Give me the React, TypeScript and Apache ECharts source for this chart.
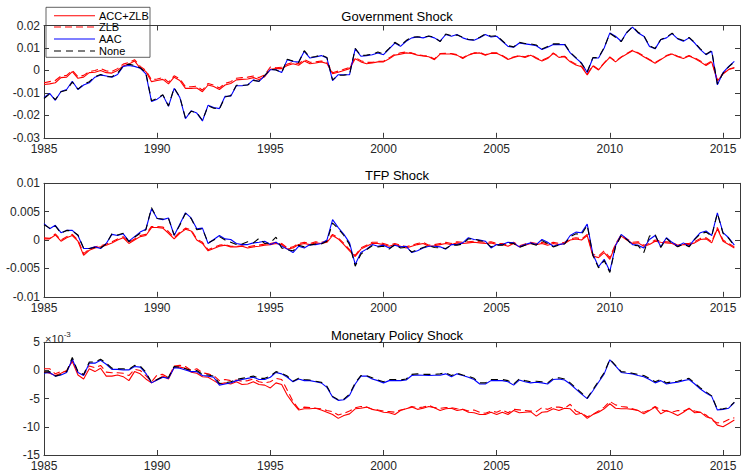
import React, { useEffect, useRef } from "react";
import * as echarts from "echarts";

// ---------- DATA ----------
const START_YEAR = 1985;
const N_QUARTERS = 123; // 1985Q1 .. 2015Q3
const quarters = Array.from({ length: N_QUARTERS }, (_, i) => START_YEAR + i / 4);

const seriesNames = ["ACC+ZLB", "ZLB", "AAC", "None"];
const panelTitles = ["Government Shock", "TFP Shock", "Monetary Policy Shock"];

// Panel 1: Government Shock
const govAccZlb = [
  -0.0063, -0.006, -0.0055, -0.0032,
  -0.003, -0.0005, -0.0035, -0.003,
  -0.001, -0.0008, 0.0, -0.001,
  -0.0012, 0.0, 0.002, 0.0028,
  0.0042, 0.001, -0.0005, -0.005,
  -0.0045, -0.004, -0.006, -0.003,
  -0.0045, -0.008, -0.008, -0.0078,
  -0.0095, -0.0065, -0.0072, -0.0085,
  -0.0065, -0.0058, -0.0042, -0.004,
  -0.0038, -0.0032, -0.004, -0.0028,
  0.0005, 0.0008, 0.0008, 0.0022,
  0.003, 0.0023, 0.0042, 0.003,
  0.0033, 0.0038, 0.0031, -0.0015,
  -0.0008, 0.0, 0.0008, 0.0052,
  0.0038, 0.003, 0.0033, 0.0038,
  0.0038, 0.0052, 0.0068, 0.0072,
  0.0078, 0.0075, 0.0068, 0.0064,
  0.0061, 0.0048, 0.0073, 0.0073,
  0.0073, 0.0068, 0.0053, 0.0068,
  0.0076, 0.0078, 0.0068, 0.0076,
  0.0076, 0.0064, 0.0049, 0.0058,
  0.0064, 0.0058, 0.0068, 0.0053,
  0.0042, 0.0053, 0.0076, 0.0058,
  0.0061, 0.0038, 0.0024, 0.0016,
  -0.002, 0.002, 0.0002, 0.0032,
  0.0058, 0.0038, 0.0058, 0.0073,
  0.0088, 0.0076, 0.0061, 0.0046,
  0.0032, 0.0048, 0.0064, 0.0073,
  0.0061, 0.0053, 0.0064, 0.0053,
  0.0038, 0.0022, 0.0038, -0.0048,
  -0.0016, 0.0004, 0.0011,
];
const govZlb = [
  -0.0055, -0.005, -0.0045, -0.0025,
  -0.0022, 0.0, -0.0028, -0.0022,
  -0.0005, 0.0, 0.0008, -0.0002,
  -0.0005, 0.0008, 0.0028, 0.0035,
  0.0048, 0.0018, 0.0, -0.0042,
  -0.0038, -0.0032, -0.0052, -0.0024,
  -0.0038, -0.0072, -0.0073, -0.007,
  -0.0088, -0.0058, -0.0065, -0.0078,
  -0.0058, -0.005, -0.0035, -0.0032,
  -0.003, -0.0025, -0.0032, -0.002,
  0.0015, 0.0012, 0.0014, 0.0028,
  0.0036, 0.003, 0.0048, 0.0036,
  0.0038, 0.0042, 0.0036, -0.001,
  -0.0003, 0.0005, 0.0013, 0.0058,
  0.0043, 0.0036, 0.0036, 0.004,
  0.0041, 0.0056, 0.0072, 0.0078,
  0.0082, 0.0078, 0.007, 0.0066,
  0.0064, 0.0051, 0.0075, 0.0076,
  0.0075, 0.007, 0.0056, 0.007,
  0.0078, 0.008, 0.007, 0.0078,
  0.0078, 0.0066, 0.0052, 0.006,
  0.0066, 0.0061, 0.007, 0.0056,
  0.0045, 0.0056, 0.0078, 0.0061,
  0.0063, 0.0042, 0.0028, 0.0019,
  -0.0016, 0.0022, 0.0004, 0.0034,
  0.006, 0.0041, 0.006, 0.0075,
  0.009, 0.0079, 0.0064, 0.0049,
  0.0035, 0.005, 0.0066, 0.0075,
  0.0063, 0.0056, 0.0066, 0.0056,
  0.0042, 0.0026, 0.0042, -0.0042,
  -0.0012, 0.0006, 0.0013,
];
const govAac = [
  -0.012, -0.0102, -0.0133, -0.0094,
  -0.0085, -0.0048, -0.0085, -0.0065,
  -0.0055, -0.003, -0.002, -0.0025,
  -0.003, -0.0018, 0.0018, 0.0022,
  0.0018, 0.001, -0.0015, -0.0138,
  -0.0128, -0.011, -0.016, -0.008,
  -0.012, -0.0215, -0.018, -0.019,
  -0.0225, -0.0155, -0.0165, -0.017,
  -0.0115, -0.0115, -0.0068, -0.0068,
  -0.0064, -0.0042, -0.0049, -0.0024,
  0.0003, 0.0003, -0.0009, 0.0048,
  0.004, 0.0037, 0.0085, 0.0055,
  0.006, 0.0066, 0.0055, -0.0045,
  -0.0019, -0.0019, -0.0019, 0.0096,
  0.0063, 0.0066, 0.007, 0.0078,
  0.007, 0.0096, 0.0122, 0.0107,
  0.013, 0.0145, 0.0149, 0.0145,
  0.0152, 0.0145, 0.013, 0.016,
  0.0152, 0.016, 0.0145, 0.0137,
  0.0134, 0.0145, 0.016, 0.0149,
  0.0152, 0.013, 0.0107, 0.0103,
  0.0122, 0.0118, 0.0115, 0.011,
  0.0093, 0.0103, 0.0115, 0.0115,
  0.0115, 0.0078, 0.0055, 0.0033,
  -0.0009, 0.0055, 0.0055, 0.01,
  0.0167, 0.0152, 0.013, 0.017,
  0.0193, 0.0167, 0.0152, 0.0107,
  0.0096, 0.0137, 0.0145, 0.0164,
  0.014, 0.013, 0.0145, 0.0122,
  0.0093, 0.007, 0.0085, -0.0064,
  -0.001, 0.0018, 0.004,
];
const govNone = [
  -0.0125, -0.0105, -0.013, -0.0095,
  -0.0088, -0.0052, -0.0083, -0.0062,
  -0.005, -0.0028, -0.0018, -0.0028,
  -0.0028, -0.0012, 0.002, 0.0028,
  0.0022, 0.0012, -0.001, -0.0135,
  -0.0125, -0.0108, -0.0158, -0.0078,
  -0.0118, -0.0212, -0.0182, -0.0188,
  -0.0222, -0.0158, -0.0168, -0.0172,
  -0.0118, -0.0112, -0.0066, -0.0066,
  -0.0065, -0.0045, -0.0048, -0.0022,
  0.0005, 0.0002, -0.001, 0.005,
  0.0042, 0.0035, 0.0088, 0.0058,
  0.0062, 0.0068, 0.0058, -0.0042,
  -0.0022, -0.0021, -0.0017, 0.0098,
  0.0066, 0.0068, 0.0072, 0.0082,
  0.0073, 0.0098, 0.0125, 0.011,
  0.0133, 0.0148, 0.015, 0.0148,
  0.0153, 0.0148, 0.0128, 0.0162,
  0.0155, 0.0158, 0.0148, 0.0138,
  0.0136, 0.0148, 0.0162, 0.0152,
  0.0155, 0.0132, 0.011, 0.0105,
  0.0125, 0.012, 0.0118, 0.0113,
  0.0095, 0.0106, 0.0118, 0.0118,
  0.0118, 0.008, 0.0057, 0.003,
  -0.0006, 0.0057, 0.0057, 0.0102,
  0.0165, 0.0148, 0.0128, 0.0168,
  0.0195, 0.017, 0.0155, 0.011,
  0.0098, 0.0138, 0.0148, 0.0166,
  0.0142, 0.0133, 0.0147, 0.0124,
  0.0096, 0.0072, 0.0088, -0.006,
  -0.0013, 0.0016, 0.0038,
];

// Panel 2: TFP Shock
const tfpAccZlb = [
  0.0002, 0.0002, 0.0009, -0.0002,
  0.0004, 0.0008, -0.0002, -0.0027,
  -0.0018, -0.0014, -0.0012, -0.0009,
  -0.0005, 0.0, 0.0004, -0.0006,
  0.0, 0.0006, 0.0008, 0.0022,
  0.0022, 0.0021, 0.0012, 0.0002,
  0.0012, 0.0019, 0.0016, 0.0,
  -0.0006, -0.0019, -0.0015, -0.0011,
  -0.0009, -0.0012, -0.0012, -0.0011,
  -0.0014, -0.0012, -0.0011, -0.0009,
  -0.0008, -0.0006, -0.0008, -0.0016,
  -0.0014, -0.0008, -0.0006, -0.0008,
  -0.0005, -0.0006, -0.0004, 0.0008,
  0.0002, -0.0008, -0.0019, -0.0029,
  -0.0016, -0.0011, -0.0006, -0.0006,
  -0.0008, -0.0011, -0.0008, -0.0011,
  -0.0014, -0.0011, -0.0008, -0.0006,
  -0.0011, -0.001, -0.0008, -0.0006,
  -0.0008, -0.0005, -0.0006, -0.0005,
  -0.0004, -0.0005, -0.0006, -0.0005,
  -0.0008, -0.0008, -0.0011, -0.0006,
  -0.0012, -0.0009, -0.0006, -0.0008,
  -0.0006, -0.0009, -0.0006, -0.0008,
  -0.0006, 0.0, 0.0002, 0.0,
  0.0008, -0.0028, -0.0031, -0.0022,
  -0.0034, -0.0009, 0.0007, 0.0,
  -0.0006, -0.0005, -0.0011, -0.0008,
  -0.0002, -0.0004, -0.0005, -0.0006,
  -0.0011, -0.0008, -0.0008, -0.0005,
  0.0001, 0.0002, -0.0005, 0.002,
  -0.0002, -0.0008, -0.0014,
];
const tfpZlb = [
  0.0004, 0.0003, 0.0011, 0.0,
  0.0006, 0.001, 0.0, -0.0024,
  -0.0016, -0.0012, -0.001, -0.0007,
  -0.0003, 0.0002, 0.0006, -0.0004,
  0.0002, 0.0008, 0.001, 0.0024,
  0.0024, 0.0023, 0.0015, 0.0004,
  0.0014, 0.0021, 0.0018, 0.0002,
  -0.0004, -0.0017, -0.0013, -0.0009,
  -0.0008, -0.0011, -0.0011, -0.001,
  -0.0012, -0.001, -0.0009, -0.0007,
  -0.0006, -0.0004, -0.0006, -0.0014,
  -0.0012, -0.0006, -0.0004, -0.0006,
  -0.0003, -0.0004, -0.0002, 0.001,
  0.0004, -0.0006, -0.0017, -0.0027,
  -0.0014, -0.0009, -0.0004, -0.0004,
  -0.0006, -0.0009, -0.0006, -0.0009,
  -0.0012, -0.0009, -0.0006, -0.0004,
  -0.0009, -0.0008, -0.0006, -0.0004,
  -0.0006, -0.0003, -0.0004, -0.0003,
  -0.0002, -0.0003, -0.0004, -0.0003,
  -0.0006, -0.0006, -0.0009, -0.0004,
  -0.001, -0.0007, -0.0004, -0.0006,
  -0.0004, -0.0007, -0.0004, -0.0006,
  -0.0004, 0.0002, 0.0004, 0.0002,
  0.001, -0.0025, -0.0028, -0.0019,
  -0.0031, -0.0007, 0.0009, 0.0002,
  -0.0004, -0.0003, -0.0009, -0.0006,
  0.0, -0.0002, -0.0003, -0.0004,
  -0.0009, -0.0006, -0.0006, -0.0003,
  0.0003, 0.0004, -0.0003, 0.0022,
  0.0, -0.0006, -0.0012,
];
const tfpAac = [
  0.0029, 0.002, 0.0026, 0.0013,
  0.0017, 0.0017, 0.0008, -0.0015,
  -0.0015, -0.0012, -0.0015, -0.0006,
  0.001, 0.0008, 0.0011, -0.0002,
  0.0006, 0.0014, 0.0019, 0.0055,
  0.0038, 0.0036, 0.0039, 0.0008,
  0.0028, 0.0048, 0.0039, 0.002,
  0.0021, -0.0006, 0.0001, 0.0008,
  0.0002, 0.0001, -0.0006, -0.0008,
  -0.0008, -0.0005, -0.0004, -0.0002,
  -0.0008, -0.0004, -0.0011, -0.0016,
  -0.0022, -0.0011, -0.0014, -0.0008,
  -0.0008, -0.0006, 0.0, 0.0036,
  0.0022, 0.001, -0.0005, -0.0043,
  -0.0022, -0.0016, -0.0008, -0.0011,
  -0.0009, -0.0014, -0.0009, -0.0012,
  -0.0011, -0.0022, -0.0019, -0.0014,
  -0.0011, -0.0011, -0.0012, -0.0016,
  -0.0008, -0.0008, -0.0005, 0.0004,
  0.0001, 0.0, -0.0002, -0.0014,
  -0.0008, -0.0008, -0.0004, -0.0005,
  -0.0012, -0.0008, -0.0005, -0.0008,
  0.0001, -0.0004, -0.0011, -0.0008,
  -0.0006, 0.0008, 0.0014, 0.0013,
  0.0028, -0.0025, -0.0047, -0.0034,
  -0.0055, -0.001, 0.001, 0.0002,
  -0.0008, -0.0009, -0.0014, 0.0001,
  0.0008, -0.0012, 0.0004, -0.0004,
  -0.0011, -0.0005, -0.0011, 0.0002,
  0.0013, 0.0016, 0.0008, 0.0048,
  0.0013, 0.0004, -0.0009,
];
const tfpNone = [
  0.0027, 0.0021, 0.0025, 0.0012,
  0.0017, 0.0016, 0.0009, -0.0014,
  -0.0015, -0.0013, -0.0014, -0.0007,
  0.0011, 0.0009, 0.0012, -0.0003,
  0.0005, 0.0012, 0.0018, 0.0057,
  0.0038, 0.0037, 0.0038, 0.0009,
  0.0026, 0.0047, 0.0038, 0.0018,
  0.002, -0.0005, 0.0, 0.0006,
  0.0, -0.0004, -0.0008, -0.0007,
  -0.0003, -0.0005, 0.0003, -0.0006,
  -0.0005, 0.0005, -0.0014, -0.0017,
  -0.0019, -0.0009, -0.0012, -0.0009,
  -0.0007, -0.0007, -0.0002, 0.003,
  0.002, 0.0008, -0.0008, -0.0046,
  -0.0025, -0.0017, -0.001, -0.0012,
  -0.0011, -0.0016, -0.0008, -0.0014,
  -0.0013, -0.0021, -0.0017, -0.0013,
  -0.001, -0.0013, -0.0014, -0.0015,
  -0.0009, -0.0009, -0.0007, 0.0002,
  0.0002, -0.0001, -0.0003, -0.0012,
  -0.0009, -0.0009, -0.0005, -0.0006,
  -0.0013, -0.0009, -0.0006, -0.0009,
  -0.0001, -0.0006, -0.0012, -0.0009,
  -0.0007, 0.0006, 0.0011, 0.001,
  0.0026, -0.0027, -0.0049, -0.0036,
  -0.0057, -0.0012, 0.0008, 0.0001,
  -0.0009, -0.001, -0.0022, 0.0007,
  0.001, -0.0013, 0.0003, -0.0006,
  -0.0012, -0.0007, -0.0012, 0.0001,
  0.0011, 0.0014, 0.0007, 0.0047,
  0.0012, 0.0003, -0.001,
];

// Panel 3: Monetary Policy Shock (units of 10^-3)
const monAccZlb = [
  -0.2, -0.5, -0.9, -0.5,
  0.0, 1.6, -0.8, -1.5,
  0.3, -0.2, 0.4, -1.0,
  -1.0, -0.8, -1.1, -1.8,
  -0.2, -0.6, -1.5, -2.2,
  -1.6, -1.0, -1.5, 0.6,
  0.6, 0.4, -0.3, -0.5,
  -1.1, -1.2, -1.8, -2.4,
  -2.2, -2.4, -2.0, -2.5,
  -2.4, -2.0, -2.5, -2.6,
  -3.1, -2.2, -2.5, -4.4,
  -5.8, -7.0, -6.8, -6.8,
  -6.7, -7.0, -7.4, -7.8,
  -8.5, -8.0, -7.7, -6.8,
  -6.7, -6.5, -6.9, -7.1,
  -7.4, -7.5, -7.8, -7.1,
  -6.8, -6.5, -6.9, -6.7,
  -6.4, -6.6, -7.1, -6.8,
  -6.7, -7.1, -6.9, -7.4,
  -7.5, -7.8, -7.8, -7.4,
  -7.8, -7.4, -7.8, -7.1,
  -7.5, -7.4, -7.3, -8.1,
  -7.4, -7.3, -6.8, -7.1,
  -6.7, -6.8, -7.8, -7.6,
  -8.5, -7.8, -7.4, -6.8,
  -5.9, -6.7, -6.8, -6.8,
  -6.9, -7.1, -7.7, -7.1,
  -6.5, -7.7, -7.1, -7.5,
  -8.0, -7.4, -6.7, -7.5,
  -7.4, -8.2, -8.5, -9.7,
  -10.0, -9.4, -8.8,
];
const monZlb = [
  0.3, 0.3, -0.6, -0.2,
  -0.2, 1.8, -0.3, -0.8,
  0.8, 0.5, 0.9, -0.3,
  -0.4, -0.4, -0.5, -0.9,
  0.2, 0.0, -0.9, -2.0,
  -0.8, -0.7, -1.3, 0.8,
  0.9, 0.7, 0.0, 0.3,
  -0.4, -0.6, -0.9, -1.8,
  -1.6, -1.8, -1.7, -1.9,
  -1.8, -1.5, -2.0, -2.2,
  -2.0, -1.4, -1.6, -3.5,
  -5.5, -6.8, -6.5, -6.6,
  -6.7, -6.8, -7.1, -7.3,
  -7.9, -7.6, -7.2, -6.6,
  -6.4, -6.5, -6.9, -7.0,
  -7.2, -7.3, -7.4, -7.0,
  -6.8, -6.4, -6.6, -6.5,
  -6.2, -6.6, -6.7, -6.6,
  -6.6, -6.8, -6.9, -7.2,
  -7.0, -7.4, -7.6, -7.2,
  -7.4, -7.0, -7.5, -6.9,
  -7.0, -7.1, -7.2, -7.3,
  -6.6, -6.9, -6.5, -6.5,
  -6.7, -6.0, -7.2, -7.6,
  -8.2, -7.8, -7.2, -6.5,
  -5.5, -6.1, -6.4, -6.5,
  -6.8, -7.1, -7.4, -7.0,
  -6.4, -7.0, -7.2, -7.4,
  -7.1, -7.2, -6.8, -7.2,
  -7.4, -7.9, -8.8, -9.3,
  -9.2, -8.7, -8.4,
];
const monAac = [
  -0.5, -0.35, -1.0, -0.8,
  -0.35, 2.0, -0.35, -0.9,
  1.3, 1.3, 1.8, 1.1,
  0.2, 0.2, 0.1, 0.1,
  0.7, 0.6, -0.5, -2.2,
  -1.7, -1.2, -1.4, 0.5,
  0.4, 0.1, -0.2, -0.2,
  -0.9, -1.0, -1.2, -2.6,
  -2.4, -2.2, -1.8, -1.6,
  -1.4, -1.2, -1.6, -1.6,
  -1.2, -0.35, -0.6, -1.2,
  -2.0, -1.5, -1.8, -1.8,
  -2.0, -2.2, -3.0, -4.7,
  -5.3, -5.2, -4.4, -2.4,
  -1.0, -1.0, -1.5, -1.8,
  -2.2, -1.8, -1.8, -1.8,
  -1.7, -0.9, -0.8, -0.85,
  -0.9, -0.85, -0.85, -0.6,
  -1.1, -0.6, -0.9, -1.2,
  -1.6, -2.4, -2.4, -1.8,
  -1.8, -1.8, -2.0, -2.6,
  -1.7, -2.0, -2.2, -2.1,
  -2.2, -2.4, -1.6, -1.5,
  -1.7, -2.4, -3.3, -4.2,
  -5.0, -3.6, -2.1, -0.6,
  1.9, 0.8, -0.35, -0.5,
  -0.6, -0.9, -1.1, -1.6,
  -2.2, -1.8, -2.4, -2.2,
  -2.1, -1.8, -1.6, -2.4,
  -3.3, -4.0, -4.6, -7.0,
  -6.9, -6.7, -5.7,
];
const monNone = [
  -0.3, -0.2, -1.0, -0.7,
  -0.2, 2.3, -0.2, -0.7,
  1.5, 1.5, 2.0, 1.3,
  0.4, 0.3, 0.3, 0.2,
  0.9, 0.8, -0.3, -2.1,
  -1.6, -1.1, -1.2, 0.7,
  0.6, 0.3, 0.0, 0.0,
  -0.7, -0.8, -1.0, -2.3,
  -2.2, -2.0, -1.6, -1.4,
  -1.2, -1.0, -1.4, -1.4,
  -1.0, -0.2, -0.5, -1.0,
  -1.9, -1.4, -1.6, -1.7,
  -1.9, -2.1, -2.8, -4.6,
  -5.2, -5.1, -4.2, -2.2,
  -0.9, -0.9, -1.3, -1.7,
  -2.0, -1.6, -1.6, -1.7,
  -1.5, -0.7, -0.6, -0.7,
  -0.7, -0.7, -0.6, -0.4,
  -0.9, -0.5, -0.8, -1.0,
  -1.4, -2.2, -2.2, -1.6,
  -1.6, -1.6, -1.8, -2.4,
  -1.5, -1.8, -2.0, -1.9,
  -2.0, -2.2, -1.4, -1.3,
  -1.5, -2.2, -3.1, -4.0,
  -4.9, -3.4, -1.9, -0.4,
  2.0, 0.9, -0.2, -0.3,
  -0.5, -0.7, -0.9, -1.4,
  -2.0, -1.6, -2.2, -2.0,
  -1.9, -1.6, -1.4, -2.2,
  -3.1, -3.8, -4.5, -6.9,
  -6.8, -6.6, -5.6,
];

const panelData = [
  [govAccZlb, govZlb, govAac, govNone],
  [tfpAccZlb, tfpZlb, tfpAac, tfpNone],
  [monAccZlb, monZlb, monAac, monNone],
];
const yRanges = [
  { min: -0.03, max: 0.02, interval: 0.01 },
  { min: -0.01, max: 0.01, interval: 0.005 },
  { min: -15, max: 5, interval: 5 },
];
const X_MIN = 1985;
const X_MAX = 2015.75;
const X_INTERVAL = 5;

// ---------- STYLE ----------
const FONT = "'Liberation Sans', Arial, Helvetica, sans-serif";
const AXIS_COLOR = "#3a3a3a";
const LABEL_COLOR = "#262626";
const seriesStyles = [
  { color: "#ff0000", type: "solid", width: 1.1 },
  { color: "#ff0000", type: [7, 4], width: 1.1 },
  { color: "#0000ff", type: "solid", width: 1.1 },
  { color: "#000000", type: [7, 5], width: 1.1 },
];
const grids = [
  { left: 44, top: 25.5, width: 698, height: 112.3 },
  { left: 44, top: 183.3, width: 698, height: 113.5 },
  { left: 44, top: 342.3, width: 698, height: 114.4 },
];
const titlePos = [
  { x: 397, y: 16.7 },
  { x: 397, y: 175.7 },
  { x: 397, y: 335.5 },
];

function buildOption() {
  const xAxis: any[] = [];
  const yAxis: any[] = [];
  const series: any[] = [];
  grids.forEach((g, i) => {
    const tick = { show: true, inside: true, length: 5, lineStyle: { color: AXIS_COLOR, width: 1 } };
    const line = { show: true, onZero: false, lineStyle: { color: AXIS_COLOR, width: 1 } };
    xAxis.push({
      gridIndex: i, type: "value", min: X_MIN, max: X_MAX, interval: X_INTERVAL, position: "bottom",
      axisLine: line, axisTick: tick, splitLine: { show: false },
      axisLabel: {
        show: true, margin: 5, fontSize: 12, lineHeight: 12, color: LABEL_COLOR, fontFamily: FONT,
        formatter: (v: number) => (Math.abs(v % 5) < 1e-9 ? String(v) : ""),
      },
    });
    xAxis.push({
      gridIndex: i, type: "value", min: X_MIN, max: X_MAX, interval: X_INTERVAL, position: "top",
      axisLine: line, axisTick: tick, splitLine: { show: false }, axisLabel: { show: false },
    });
    const yr = yRanges[i];
    yAxis.push({
      gridIndex: i, type: "value", min: yr.min, max: yr.max, interval: yr.interval, position: "left",
      axisLine: line, axisTick: tick, splitLine: { show: false },
      axisLabel: { show: true, margin: 4, fontSize: 12, lineHeight: 8, color: LABEL_COLOR, fontFamily: FONT },
    });
    yAxis.push({
      gridIndex: i, type: "value", min: yr.min, max: yr.max, interval: yr.interval, position: "right",
      axisLine: line, axisTick: tick, splitLine: { show: false }, axisLabel: { show: false },
    });
    panelData[i].forEach((arr, k) => {
      const st = seriesStyles[k];
      series.push({
        name: seriesNames[k],
        type: "line",
        xAxisIndex: i * 2,
        yAxisIndex: i * 2,
        symbol: "none",
        showSymbol: false,
        silent: true,
        clip: true,
        z: 2 + k,
        lineStyle: { color: st.color, width: st.width, type: st.type },
        data: arr.map((v, j) => [quarters[j], v]),
      });
    });
  });

  const graphic: any[] = [];
  panelTitles.forEach((t, i) => {
    graphic.push({
      type: "text", x: titlePos[i].x, y: titlePos[i].y, z: 100,
      style: {
        text: t, fill: "#000", fontSize: 13, fontFamily: FONT,
        align: "center", verticalAlign: "middle", textAlign: "center", textVerticalAlign: "middle",
      },
    });
  });
  // exponent label for panel 3
  graphic.push({
    type: "text", x: 45, y: 330, z: 100,
    style: {
      text: "{a|×10}{b|-3}",
      fill: LABEL_COLOR, fontFamily: FONT,
      rich: {
        a: { fontSize: 11, fontFamily: FONT, fill: LABEL_COLOR, lineHeight: 14, verticalAlign: "bottom" },
        b: { fontSize: 8, fontFamily: FONT, fill: LABEL_COLOR, lineHeight: 14, verticalAlign: "top" },
      },
    },
  });
  // Legend
  const legendRows = [15.7, 27, 39, 51];
  const legendChildren: any[] = [
    {
      type: "rect", shape: { x: 46, y: 7.3, width: 104, height: 50 },
      style: { fill: "#ffffff", stroke: AXIS_COLOR, lineWidth: 0.8 },
    },
  ];
  seriesNames.forEach((name, k) => {
    const st = seriesStyles[k];
    legendChildren.push({
      type: "line", shape: { x1: 54, y1: legendRows[k], x2: 95, y2: legendRows[k] },
      style: { stroke: st.color, lineWidth: st.width, lineDash: Array.isArray(st.type) ? st.type : null },
    });
    legendChildren.push({
      type: "text", x: 99, y: legendRows[k],
      style: {
        text: name, fill: "#000", fontSize: 11, fontFamily: FONT,
        align: "left", verticalAlign: "middle", textAlign: "left", textVerticalAlign: "middle",
      },
    });
  });
  graphic.push({ type: "group", z: 200, children: legendChildren });

  return {
    animation: false,
    backgroundColor: "#ffffff",
    grid: grids.map((g) => ({ ...g, containLabel: false, show: false })),
    xAxis,
    yAxis,
    series,
    graphic,
  };
}

export default function App() {
  const ref = useRef<HTMLDivElement>(null);
  useEffect(() => {
    if (!ref.current) return;
    const chart = echarts.init(ref.current, undefined, { renderer: "svg" });
    chart.setOption(buildOption() as any);
    return () => chart.dispose();
  }, []);
  return (
    <div
      ref={ref}
      style={{ position: "fixed", left: 0, top: 0, width: 743, height: 472, background: "#fff" }}
    />
  );
}
